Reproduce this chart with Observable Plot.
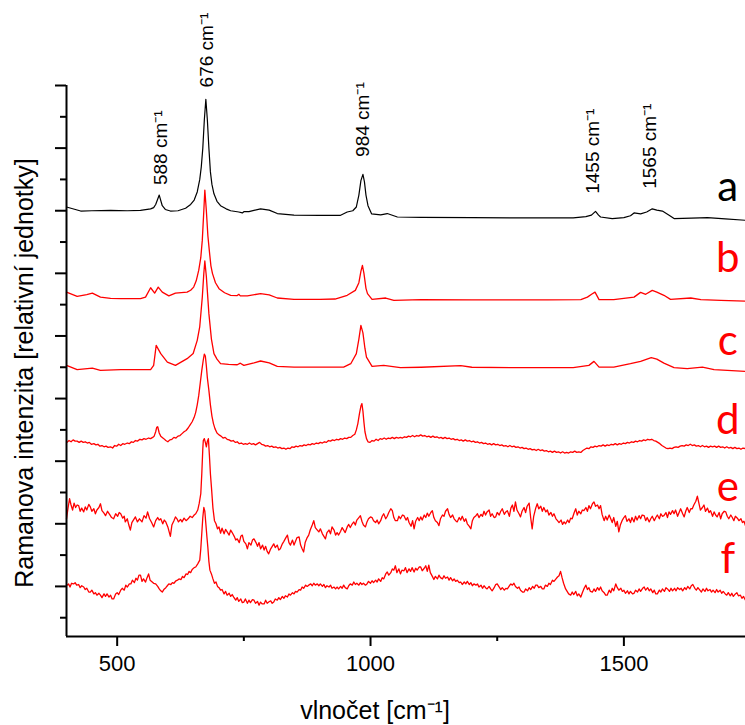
<!DOCTYPE html>
<html>
<head>
<meta charset="utf-8">
<script src="https://cdn.jsdelivr.net/npm/d3@7"></script>
<script src="https://cdn.jsdelivr.net/npm/@observablehq/plot@0.6"></script>
<style>
  html, body { margin: 0; padding: 0; background: #fff; }
  #chart svg { display: block; }
</style>
</head>
<body>
<div id="chart"></div>
<script>
// x: wavenumber [cm-1], y: relative intensity (stacked, arbitrary units)
const xMajorTicks = [500, 1000, 1500];
const xMinorTicks = [750, 1250];
const yMajorTicks = [0, 1, 2, 3, 4, 5, 6, 7, 8];
const yMinorTicks = [-0.5, 0.5, 1.5, 2.5, 3.5, 4.5, 5.5, 6.5, 7.5];

const specA = [[400,6.06],[428,5.995],[450,6.00],[487,6.006],[520,6.00],[546,6.006],[566,6.03],[572,6.05],[576,6.10],[583,6.25],[589,6.08],[595,6.02],[605,5.995],[620,6.00],[635,6.04],[645,6.10],[652,6.17],[658,6.30],[663,6.50],[666,6.70],[669,7.00],[672,7.45],[675,7.78],[678,7.45],[681,7.00],[684,6.62],[687,6.42],[691,6.27],[697,6.15],[704,6.08],[715,6.03],[724,6.00],[740,5.98],[747,5.965],[750,5.985],[760,5.985],[783,6.03],[800,6.01],[816,5.955],[849,5.93],[900,5.925],[940,5.925],[954,5.98],[965,6.00],[972,6.06],[977,6.25],[981,6.48],[985,6.58],[988,6.46],[991,6.25],[995,6.08],[1002,5.95],[1020,5.935],[1033,5.955],[1053,5.90],[1100,5.895],[1200,5.89],[1300,5.885],[1400,5.885],[1425,5.905],[1436,5.93],[1444,5.99],[1450,5.93],[1454,5.90],[1477,5.875],[1500,5.89],[1513,5.92],[1520,5.965],[1533,5.95],[1545,5.98],[1556,6.03],[1565,6.01],[1576,5.995],[1590,5.925],[1599,5.875],[1650,5.885],[1665,5.89],[1700,5.87],[1740,5.847]];

const specB = [[400,4.70],[421,4.633],[440,4.66],[451,4.685],[467,4.62],[487,4.60],[507,4.595],[546,4.595],[556,4.62],[566,4.77],[574,4.685],[581,4.78],[589,4.70],[602,4.64],[615,4.685],[638,4.70],[645,4.73],[651,4.78],[656,4.88],[661,5.05],[665,5.25],[668,5.53],[671,6.00],[673,6.33],[676,6.00],[679,5.60],[682,5.35],[685,5.12],[688,5.00],[694,4.85],[701,4.755],[712,4.69],[724,4.649],[737,4.645],[740,4.665],[743,4.64],[757,4.64],[783,4.675],[800,4.655],[816,4.606],[849,4.585],[900,4.585],[930,4.59],[954,4.649],[970,4.728],[977,4.85],[981,5.03],[984,5.128],[987,5.00],[991,4.76],[994,4.675],[1003,4.585],[1030,4.606],[1046,4.569],[1100,4.58],[1200,4.577],[1300,4.575],[1350,4.575],[1415,4.58],[1428,4.62],[1437,4.67],[1443,4.70],[1451,4.58],[1480,4.58],[1520,4.62],[1533,4.696],[1543,4.665],[1556,4.728],[1565,4.70],[1579,4.649],[1592,4.585],[1632,4.606],[1652,4.58],[1691,4.569],[1740,4.557]];

const specC = [[400,3.53],[421,3.462],[451,3.487],[467,3.45],[507,3.462],[566,3.462],[572,3.53],[577,3.85],[586,3.717],[599,3.583],[615,3.53],[638,3.637],[650,3.72],[658,3.93],[663,4.15],[668,4.62],[671,5.00],[673,5.197],[676,4.95],[681,4.356],[686,3.95],[691,3.717],[697,3.63],[704,3.557],[720,3.545],[737,3.54],[743,3.565],[750,3.53],[770,3.57],[783,3.60],[800,3.57],[816,3.514],[849,3.503],[900,3.503],[947,3.503],[961,3.557],[972,3.717],[977,3.95],[981,4.17],[985,4.05],[989,3.80],[992,3.663],[1003,3.514],[1026,3.53],[1059,3.494],[1100,3.50],[1178,3.525],[1200,3.50],[1300,3.494],[1400,3.494],[1431,3.53],[1441,3.594],[1451,3.503],[1480,3.503],[1513,3.557],[1533,3.594],[1554,3.653],[1565,3.63],[1579,3.567],[1599,3.494],[1625,3.478],[1655,3.503],[1678,3.462],[1740,3.435]];

const specD = [[401,2.30],[405,2.33],[409,2.31],[413,2.34],[417,2.32],[421,2.32],[425,2.30],[429,2.32],[433,2.30],[437,2.31],[441,2.29],[445,2.30],[449,2.27],[454,2.28],[458,2.26],[462,2.27],[466,2.24],[470,2.25],[474,2.23],[478,2.24],[482,2.22],[487,2.23],[491,2.21],[495,2.25],[499,2.24],[503,2.27],[507,2.25],[511,2.28],[515,2.27],[520,2.29],[524,2.28],[528,2.31],[532,2.30],[536,2.33],[540,2.32],[545,2.35],[549,2.34],[553,2.36],[557,2.35],[562,2.37],[566,2.36],[570,2.38],[573,2.40],[576,2.47],[578,2.54],[580,2.55],[583,2.45],[586,2.40],[589,2.38],[592,2.36],[596,2.33],[600,2.31],[604,2.34],[608,2.35],[612,2.38],[616,2.37],[620,2.40],[624,2.41],[628,2.44],[632,2.47],[636,2.49],[640,2.53],[644,2.58],[648,2.63],[652,2.70],[655,2.78],[658,2.90],[661,3.05],[664,3.25],[667,3.45],[670,3.62],[672,3.71],[674,3.68],[676,3.52],[678,3.33],[681,3.13],[684,2.90],[687,2.72],[690,2.60],[693,2.52],[697,2.45],[701,2.42],[705,2.40],[709,2.37],[713,2.38],[717,2.35],[721,2.34],[725,2.32],[729,2.33],[733,2.30],[737,2.31],[741,2.28],[745,2.29],[749,2.27],[753,2.28],[757,2.27],[761,2.29],[765,2.27],[769,2.28],[773,2.26],[777,2.28],[781,2.30],[785,2.27],[789,2.26],[793,2.24],[797,2.25],[801,2.23],[805,2.24],[809,2.22],[813,2.23],[817,2.21],[821,2.22],[825,2.20],[829,2.21],[833,2.19],[837,2.21],[841,2.20],[845,2.23],[849,2.22],[853,2.24],[857,2.23],[861,2.25],[865,2.24],[869,2.26],[873,2.25],[877,2.27],[881,2.26],[885,2.28],[889,2.27],[893,2.29],[897,2.28],[901,2.30],[905,2.29],[909,2.31],[913,2.30],[917,2.33],[921,2.32],[925,2.34],[929,2.33],[933,2.35],[937,2.34],[941,2.36],[945,2.35],[949,2.37],[953,2.36],[957,2.38],[961,2.38],[965,2.41],[969,2.43],[972,2.50],[975,2.60],[978,2.75],[981,2.88],[983,2.92],[985,2.80],[987,2.62],[989,2.47],[992,2.36],[995,2.31],[999,2.30],[1003,2.33],[1007,2.32],[1011,2.35],[1015,2.33],[1019,2.36],[1023,2.35],[1027,2.37],[1031,2.35],[1035,2.37],[1039,2.36],[1043,2.38],[1047,2.36],[1051,2.38],[1055,2.37],[1059,2.38],[1063,2.37],[1067,2.39],[1071,2.38],[1075,2.40],[1079,2.39],[1083,2.41],[1087,2.39],[1091,2.41],[1095,2.40],[1099,2.42],[1103,2.40],[1107,2.41],[1111,2.39],[1115,2.40],[1119,2.38],[1123,2.40],[1127,2.38],[1131,2.39],[1135,2.37],[1139,2.38],[1143,2.36],[1147,2.38],[1151,2.36],[1155,2.37],[1159,2.35],[1163,2.36],[1167,2.34],[1171,2.35],[1175,2.33],[1179,2.34],[1183,2.32],[1187,2.34],[1191,2.32],[1195,2.33],[1199,2.31],[1203,2.32],[1207,2.30],[1211,2.31],[1215,2.29],[1219,2.30],[1223,2.28],[1227,2.29],[1231,2.27],[1235,2.28],[1239,2.26],[1243,2.28],[1247,2.26],[1251,2.27],[1255,2.25],[1259,2.26],[1263,2.24],[1267,2.25],[1271,2.23],[1275,2.25],[1279,2.23],[1283,2.24],[1287,2.22],[1291,2.23],[1295,2.21],[1299,2.22],[1303,2.20],[1307,2.21],[1311,2.19],[1315,2.20],[1319,2.18],[1323,2.19],[1327,2.17],[1331,2.19],[1335,2.17],[1339,2.18],[1343,2.16],[1347,2.17],[1351,2.15],[1355,2.16],[1359,2.14],[1363,2.16],[1367,2.14],[1371,2.15],[1375,2.13],[1379,2.15],[1383,2.13],[1387,2.14],[1391,2.13],[1395,2.15],[1399,2.14],[1403,2.16],[1407,2.14],[1411,2.15],[1415,2.14],[1419,2.17],[1423,2.19],[1427,2.21],[1431,2.20],[1435,2.23],[1439,2.22],[1443,2.24],[1447,2.23],[1451,2.25],[1455,2.24],[1459,2.26],[1463,2.24],[1467,2.26],[1471,2.25],[1475,2.27],[1479,2.26],[1483,2.28],[1487,2.26],[1491,2.28],[1495,2.27],[1499,2.29],[1503,2.28],[1507,2.30],[1511,2.29],[1515,2.31],[1519,2.30],[1523,2.32],[1527,2.31],[1531,2.33],[1535,2.32],[1539,2.34],[1543,2.33],[1547,2.35],[1551,2.34],[1555,2.35],[1559,2.33],[1563,2.32],[1567,2.30],[1571,2.28],[1575,2.25],[1579,2.23],[1583,2.21],[1587,2.20],[1591,2.21],[1595,2.20],[1599,2.22],[1603,2.23],[1607,2.22],[1611,2.24],[1615,2.25],[1619,2.24],[1623,2.26],[1627,2.25],[1631,2.27],[1635,2.25],[1639,2.26],[1643,2.24],[1647,2.25],[1651,2.23],[1655,2.25],[1659,2.23],[1663,2.24],[1667,2.22],[1671,2.24],[1675,2.23],[1679,2.24],[1683,2.22],[1687,2.24],[1691,2.22],[1695,2.23],[1699,2.21],[1703,2.23],[1707,2.21],[1711,2.22],[1715,2.20],[1719,2.22],[1723,2.20],[1727,2.21],[1731,2.19],[1735,2.21],[1740,2.20]];

const specE = [[400,1.08],[403,1.25],[406,1.40],[409,1.30],[412,1.22],[415,1.33],[418,1.26],[421,1.30],[424,1.29],[427,1.20],[430,1.25],[434,1.19],[437,1.27],[440,1.22],[444,1.31],[447,1.27],[450,1.20],[454,1.24],[457,1.16],[460,1.22],[464,1.26],[467,1.32],[470,1.21],[474,1.17],[477,1.13],[481,1.20],[485,1.15],[489,1.10],[493,1.08],[497,1.16],[501,1.12],[504,1.18],[507,1.16],[511,1.09],[514,1.12],[516,1.03],[520,1.08],[523,0.98],[526,0.90],[529,1.02],[532,1.06],[536,1.11],[540,1.03],[544,1.08],[549,1.03],[553,1.13],[557,1.09],[560,1.19],[564,1.08],[568,1.02],[572,0.95],[576,1.05],[580,1.10],[583,1.06],[586,1.08],[590,1.00],[593,1.06],[596,1.03],[600,0.95],[603,0.86],[605,0.80],[608,0.98],[612,1.05],[615,1.11],[618,1.08],[621,1.03],[625,1.07],[628,1.03],[632,1.09],[636,1.05],[640,1.08],[644,1.12],[648,1.10],[652,1.14],[655,1.16],[659,1.22],[662,1.33],[665,1.48],[667,1.80],[669,2.20],[670,2.33],[672,2.36],[674,2.30],[676,2.23],[678,2.32],[680,2.36],[682,2.10],[684,1.80],[686,1.59],[689,1.25],[692,1.05],[695,1.00],[698,0.92],[701,0.95],[704,0.85],[707,0.93],[711,0.84],[714,0.91],[718,0.86],[721,0.82],[724,0.90],[727,0.86],[731,0.80],[734,0.74],[737,0.76],[741,0.70],[744,0.80],[747,0.82],[750,0.72],[754,0.68],[757,0.60],[760,0.70],[764,0.66],[767,0.74],[770,0.76],[774,0.70],[777,0.64],[780,0.70],[783,0.60],[787,0.66],[790,0.58],[793,0.64],[796,0.56],[799,0.52],[803,0.60],[806,0.64],[809,0.68],[812,0.62],[816,0.66],[819,0.58],[822,0.60],[826,0.68],[829,0.72],[833,0.78],[836,0.82],[839,0.70],[842,0.66],[846,0.74],[849,0.66],[852,0.72],[855,0.78],[859,0.79],[862,0.66],[865,0.60],[868,0.55],[871,0.70],[875,0.78],[878,0.82],[881,0.90],[885,0.98],[888,1.05],[891,0.94],[895,0.90],[898,0.87],[901,0.92],[905,0.84],[908,0.80],[911,0.76],[914,0.86],[918,0.90],[921,0.84],[924,0.95],[928,0.90],[931,0.82],[934,0.86],[937,0.82],[941,0.88],[944,0.94],[947,0.90],[950,0.86],[954,0.95],[957,0.99],[960,0.94],[964,1.00],[967,1.03],[970,0.98],[973,1.06],[977,1.10],[980,1.13],[983,1.04],[986,0.98],[990,0.95],[993,1.03],[996,1.08],[1000,1.11],[1003,1.10],[1006,1.05],[1010,1.02],[1013,1.06],[1016,1.00],[1020,1.05],[1023,1.12],[1026,1.16],[1030,1.08],[1033,1.12],[1036,1.18],[1040,1.24],[1043,1.21],[1046,1.10],[1049,1.05],[1053,1.05],[1056,1.12],[1059,1.08],[1063,1.14],[1066,1.13],[1070,1.06],[1073,1.10],[1076,1.02],[1080,0.96],[1083,1.05],[1086,0.92],[1089,1.04],[1093,1.10],[1096,1.05],[1099,1.11],[1102,1.06],[1106,1.14],[1109,1.10],[1112,1.17],[1115,1.12],[1119,1.18],[1122,1.21],[1125,1.10],[1128,1.05],[1132,1.02],[1135,0.97],[1138,1.08],[1142,1.14],[1145,1.12],[1148,1.20],[1152,1.24],[1155,1.15],[1158,1.10],[1162,1.14],[1165,1.08],[1168,1.05],[1171,1.03],[1175,1.10],[1178,1.06],[1181,1.12],[1185,1.04],[1188,1.08],[1191,1.00],[1195,0.96],[1198,0.92],[1201,1.05],[1204,1.10],[1208,1.13],[1211,1.16],[1214,1.10],[1218,1.15],[1221,1.12],[1224,1.20],[1227,1.14],[1230,1.19],[1234,1.22],[1237,1.12],[1240,1.16],[1244,1.10],[1247,1.11],[1250,1.18],[1254,1.14],[1257,1.20],[1260,1.24],[1264,1.15],[1267,1.19],[1270,1.21],[1274,1.12],[1277,1.25],[1280,1.30],[1283,1.20],[1286,1.35],[1289,1.22],[1293,1.16],[1296,1.11],[1299,1.20],[1303,1.26],[1306,1.18],[1309,1.28],[1313,1.33],[1316,1.10],[1319,0.92],[1322,1.12],[1326,1.25],[1329,1.32],[1332,1.24],[1336,1.28],[1339,1.20],[1342,1.26],[1346,1.19],[1349,1.22],[1352,1.14],[1356,1.18],[1359,1.12],[1362,1.16],[1366,1.08],[1369,1.05],[1372,1.02],[1376,1.06],[1379,0.99],[1382,1.03],[1385,1.00],[1389,1.06],[1392,1.02],[1395,1.09],[1398,1.08],[1402,1.18],[1405,1.24],[1408,1.14],[1411,1.20],[1415,1.16],[1418,1.22],[1421,1.21],[1425,1.26],[1428,1.20],[1431,1.29],[1434,1.24],[1438,1.32],[1441,1.35],[1444,1.28],[1448,1.30],[1451,1.24],[1454,1.29],[1457,1.15],[1461,1.05],[1464,1.12],[1467,1.06],[1471,1.14],[1474,1.08],[1477,1.02],[1480,1.10],[1484,0.96],[1487,1.04],[1490,0.87],[1493,0.98],[1497,1.06],[1500,1.10],[1503,1.13],[1506,1.04],[1510,1.08],[1513,1.02],[1516,1.10],[1520,1.03],[1523,1.12],[1526,1.06],[1530,1.13],[1533,1.08],[1536,1.14],[1540,1.13],[1543,1.05],[1546,1.10],[1550,1.03],[1553,1.08],[1556,1.12],[1560,1.05],[1563,1.10],[1566,1.14],[1570,1.08],[1573,1.16],[1576,1.12],[1579,1.13],[1583,1.18],[1586,1.10],[1589,1.19],[1592,1.15],[1596,1.21],[1599,1.16],[1602,1.22],[1606,1.12],[1609,1.18],[1612,1.24],[1616,1.16],[1619,1.11],[1622,1.20],[1625,1.26],[1629,1.18],[1632,1.24],[1635,1.24],[1638,1.30],[1642,1.36],[1645,1.44],[1648,1.33],[1651,1.22],[1655,1.26],[1658,1.30],[1661,1.20],[1665,1.25],[1668,1.18],[1671,1.21],[1675,1.12],[1678,1.19],[1681,1.14],[1684,1.11],[1688,1.18],[1691,1.08],[1694,1.16],[1698,1.20],[1701,1.19],[1704,1.12],[1707,1.08],[1711,1.14],[1714,1.10],[1717,1.05],[1720,1.12],[1724,1.09],[1727,1.05],[1731,1.08],[1734,1.02],[1737,1.04],[1740,0.97]];

const specF = [[401,0.02],[404,0.04],[407,-0.01],[410,0.05],[414,0.04],[417,0.06],[420,0.02],[424,0.03],[427,-0.02],[430,0.01],[434,-0.01],[437,-0.05],[440,-0.03],[444,-0.09],[447,-0.09],[450,-0.06],[454,-0.12],[457,-0.10],[460,-0.14],[464,-0.11],[467,-0.14],[470,-0.18],[474,-0.12],[477,-0.16],[480,-0.12],[484,-0.17],[487,-0.14],[490,-0.20],[493,-0.20],[497,-0.12],[500,-0.10],[503,-0.13],[507,-0.06],[510,-0.03],[514,-0.06],[517,0.02],[520,-0.01],[524,0.04],[527,0.04],[530,0.10],[534,0.06],[537,0.13],[540,0.10],[543,0.18],[546,0.18],[549,0.08],[552,0.12],[556,0.07],[559,0.14],[562,0.20],[565,0.10],[568,0.08],[572,0.05],[576,0.04],[580,0.00],[583,-0.04],[586,-0.07],[589,-0.09],[592,-0.05],[596,-0.02],[599,0.01],[602,0.04],[606,0.03],[609,0.06],[612,0.05],[616,0.09],[619,0.10],[622,0.12],[626,0.11],[629,0.16],[632,0.14],[636,0.20],[639,0.19],[642,0.24],[645,0.22],[648,0.27],[652,0.30],[655,0.31],[659,0.36],[663,0.42],[665,0.60],[667,0.85],[669,1.10],[671,1.26],[673,1.20],[675,1.00],[677,0.80],[679,0.62],[681,0.40],[683,0.26],[686,0.20],[689,0.12],[692,0.05],[695,0.07],[698,0.00],[701,-0.02],[704,-0.06],[707,-0.05],[711,-0.12],[714,-0.08],[717,-0.14],[721,-0.11],[724,-0.16],[727,-0.13],[730,-0.17],[734,-0.22],[737,-0.18],[740,-0.24],[744,-0.20],[747,-0.26],[750,-0.25],[753,-0.20],[757,-0.27],[760,-0.22],[763,-0.26],[767,-0.21],[770,-0.22],[773,-0.27],[777,-0.24],[780,-0.30],[783,-0.25],[786,-0.28],[790,-0.28],[793,-0.22],[796,-0.27],[799,-0.25],[803,-0.23],[806,-0.27],[809,-0.25],[812,-0.20],[816,-0.22],[819,-0.18],[822,-0.21],[826,-0.16],[829,-0.19],[832,-0.15],[836,-0.17],[839,-0.12],[842,-0.14],[846,-0.10],[849,-0.12],[852,-0.08],[855,-0.09],[859,-0.05],[862,-0.06],[865,-0.01],[868,-0.03],[872,0.02],[875,0.00],[878,0.02],[882,0.04],[885,0.01],[888,0.05],[891,0.02],[895,0.04],[898,0.01],[901,0.04],[905,0.00],[908,0.03],[911,-0.02],[914,0.01],[918,-0.01],[921,0.02],[924,-0.03],[928,-0.01],[931,-0.04],[934,-0.01],[937,-0.04],[941,0.00],[944,-0.03],[947,0.02],[950,-0.02],[954,-0.04],[957,0.01],[960,0.04],[964,0.02],[967,0.07],[970,0.03],[973,0.05],[977,0.02],[980,0.06],[983,0.03],[986,0.05],[990,0.02],[993,0.04],[996,0.08],[1000,0.05],[1003,0.09],[1006,0.06],[1010,0.10],[1013,0.07],[1016,0.12],[1020,0.08],[1023,0.14],[1026,0.12],[1030,0.20],[1033,0.23],[1036,0.18],[1040,0.22],[1043,0.28],[1046,0.26],[1049,0.33],[1052,0.22],[1056,0.28],[1059,0.20],[1062,0.26],[1066,0.25],[1069,0.30],[1072,0.22],[1076,0.28],[1079,0.24],[1082,0.30],[1086,0.23],[1089,0.29],[1092,0.26],[1096,0.31],[1099,0.31],[1102,0.25],[1106,0.29],[1109,0.33],[1112,0.24],[1115,0.34],[1118,0.22],[1122,0.16],[1125,0.11],[1128,0.16],[1132,0.12],[1135,0.18],[1138,0.14],[1142,0.12],[1145,0.17],[1148,0.13],[1152,0.15],[1155,0.10],[1158,0.14],[1162,0.09],[1165,0.12],[1168,0.08],[1171,0.10],[1175,0.06],[1178,0.07],[1181,0.03],[1185,0.07],[1188,0.04],[1191,0.08],[1195,0.03],[1198,0.06],[1201,0.01],[1204,0.04],[1208,0.02],[1211,0.04],[1214,-0.01],[1218,0.02],[1221,-0.03],[1224,0.01],[1227,-0.02],[1230,-0.04],[1234,0.00],[1237,-0.04],[1240,-0.07],[1244,-0.02],[1247,0.03],[1250,0.04],[1254,-0.01],[1257,-0.05],[1260,-0.02],[1264,-0.06],[1267,-0.03],[1270,-0.04],[1274,0.01],[1277,0.04],[1280,0.02],[1283,0.05],[1286,0.00],[1290,-0.03],[1293,-0.01],[1296,-0.06],[1300,-0.09],[1303,-0.09],[1306,-0.04],[1310,-0.07],[1313,-0.02],[1316,-0.05],[1320,0.00],[1323,-0.03],[1326,0.02],[1329,0.02],[1332,-0.02],[1336,0.00],[1339,-0.04],[1342,-0.04],[1345,0.02],[1349,0.00],[1352,0.05],[1355,0.03],[1359,0.10],[1362,0.08],[1366,0.12],[1369,0.15],[1372,0.17],[1375,0.24],[1378,0.14],[1381,0.05],[1385,-0.04],[1388,-0.08],[1391,-0.12],[1395,-0.14],[1398,-0.09],[1401,-0.13],[1405,-0.08],[1408,-0.15],[1411,-0.12],[1415,-0.17],[1418,-0.10],[1421,-0.04],[1425,0.02],[1428,-0.05],[1431,-0.02],[1434,-0.08],[1438,-0.09],[1441,-0.04],[1444,-0.08],[1448,-0.02],[1451,-0.06],[1454,-0.01],[1457,-0.07],[1461,-0.10],[1464,-0.14],[1467,-0.14],[1471,-0.06],[1474,-0.10],[1477,-0.03],[1480,-0.07],[1484,0.04],[1487,-0.02],[1490,-0.06],[1494,-0.03],[1497,-0.08],[1500,-0.06],[1503,-0.11],[1507,-0.07],[1510,-0.12],[1513,-0.08],[1517,-0.12],[1520,-0.11],[1523,-0.06],[1527,-0.09],[1530,-0.04],[1533,-0.08],[1537,-0.03],[1540,-0.01],[1543,-0.06],[1547,-0.02],[1550,-0.07],[1553,-0.04],[1557,-0.10],[1560,-0.06],[1563,-0.12],[1566,-0.12],[1570,-0.06],[1573,-0.09],[1576,-0.04],[1580,-0.08],[1583,-0.02],[1586,-0.04],[1590,-0.08],[1593,-0.03],[1596,-0.07],[1600,-0.03],[1603,-0.07],[1606,-0.02],[1610,-0.05],[1613,-0.03],[1616,-0.07],[1620,-0.02],[1623,-0.05],[1626,0.00],[1630,-0.04],[1633,0.01],[1636,0.03],[1640,-0.03],[1643,-0.06],[1646,-0.02],[1650,-0.06],[1653,-0.09],[1656,-0.04],[1660,-0.08],[1663,-0.03],[1666,-0.07],[1670,-0.05],[1673,-0.09],[1676,-0.06],[1680,-0.10],[1683,-0.05],[1686,-0.09],[1690,-0.06],[1693,-0.11],[1696,-0.08],[1700,-0.12],[1703,-0.14],[1706,-0.10],[1710,-0.15],[1713,-0.11],[1716,-0.16],[1720,-0.12],[1723,-0.10],[1726,-0.15],[1730,-0.14],[1733,-0.19],[1736,-0.16],[1740,-0.22]];

// Peak annotations
const peakText = ["588 cm⁻¹", "676 cm⁻¹", "984 cm⁻¹", "1455 cm⁻¹", "1565 cm⁻¹"];
const peakX = [586, 678, 985, 1439, 1551];
const peakY = [6.41, 7.97, 6.86, 6.27, 6.35];

// Series letters
const seriesNames = ["a", "b", "c", "d", "e", "f"];
const seriesColors = ["#000000", "#ff0000", "#ff0000", "#ff0000", "#ff0000", "#ff0000"];
const seriesLabelX = [1705, 1705, 1705, 1705, 1705, 1705];
const seriesLabelY = [6.15, 5.02, 3.69, 2.43, 1.37, 0.22];

const xTitle = "vlnočet [cm⁻¹]";
const yTitle = "Ramanova intenzita [relativní jednotky]";

const spectra = [specA, specB, specC, specD, specE, specF];

const peaks = peakText.map((t, i) => ({text: t, x: peakX[i], y: peakY[i]}));
const letters = seriesNames.map((n, i) => ({text: n, x: seriesLabelX[i], y: seriesLabelY[i], color: seriesColors[i]}));

const lineMarks = spectra.map((s, i) =>
  Plot.line(s, {x: d => d[0], y: d => d[1], stroke: seriesColors[i], strokeWidth: i === 0 ? 1.2 : 1.3})
);

const chart = Plot.plot({
  width: 745,
  height: 725,
  marginLeft: 66,
  marginRight: 0,
  marginTop: 85,
  marginBottom: 89,
  style: {fontFamily: "'Liberation Sans', Arial, sans-serif", background: "#fff", color: "#000", overflow: "visible"},
  x: {domain: [400, 1740]},
  y: {domain: [-0.8, 8]},
  marks: [
    Plot.axisY({ticks: yMajorTicks, tickSize: 11, tickFormat: () => "", strokeWidth: 2, label: null}),
    Plot.axisY({ticks: yMinorTicks, tickSize: 6, tickFormat: () => "", strokeWidth: 2, label: null}),
    Plot.axisX({ticks: xMajorTicks, tickSize: 10, tickPadding: 9, fontSize: 22, tickFormat: d => String(d), strokeWidth: 2, label: null}),
    Plot.axisX({ticks: xMinorTicks, tickSize: 5, tickFormat: () => "", strokeWidth: 2, label: null}),
    ...lineMarks,
    Plot.ruleX([400], {strokeWidth: 2}),
    Plot.ruleY([-0.8], {strokeWidth: 2}),
    Plot.text(peaks, {x: "x", y: "y", text: "text", rotate: -90, textAnchor: "start", lineAnchor: "middle", fontSize: 19, fill: "#000"}),
    Plot.text(letters, {x: "x", y: "y", text: "text", fill: "color", fontSize: 42, fontFamily: "Lato", textAnchor: "middle", lineAnchor: "bottom"}),
    Plot.text([yTitle], {text: d => d, frameAnchor: "left", rotate: -90, dx: -42, dy: 12, fontSize: 25, textAnchor: "middle", lineAnchor: "middle", fill: "#000"}),
    Plot.text([xTitle], {text: d => d, frameAnchor: "bottom", dx: -31, dy: 82, fontSize: 25, textAnchor: "middle", lineAnchor: "bottom", fill: "#000"})
  ]
});

document.getElementById("chart").append(chart);
</script>
</body>
</html>
